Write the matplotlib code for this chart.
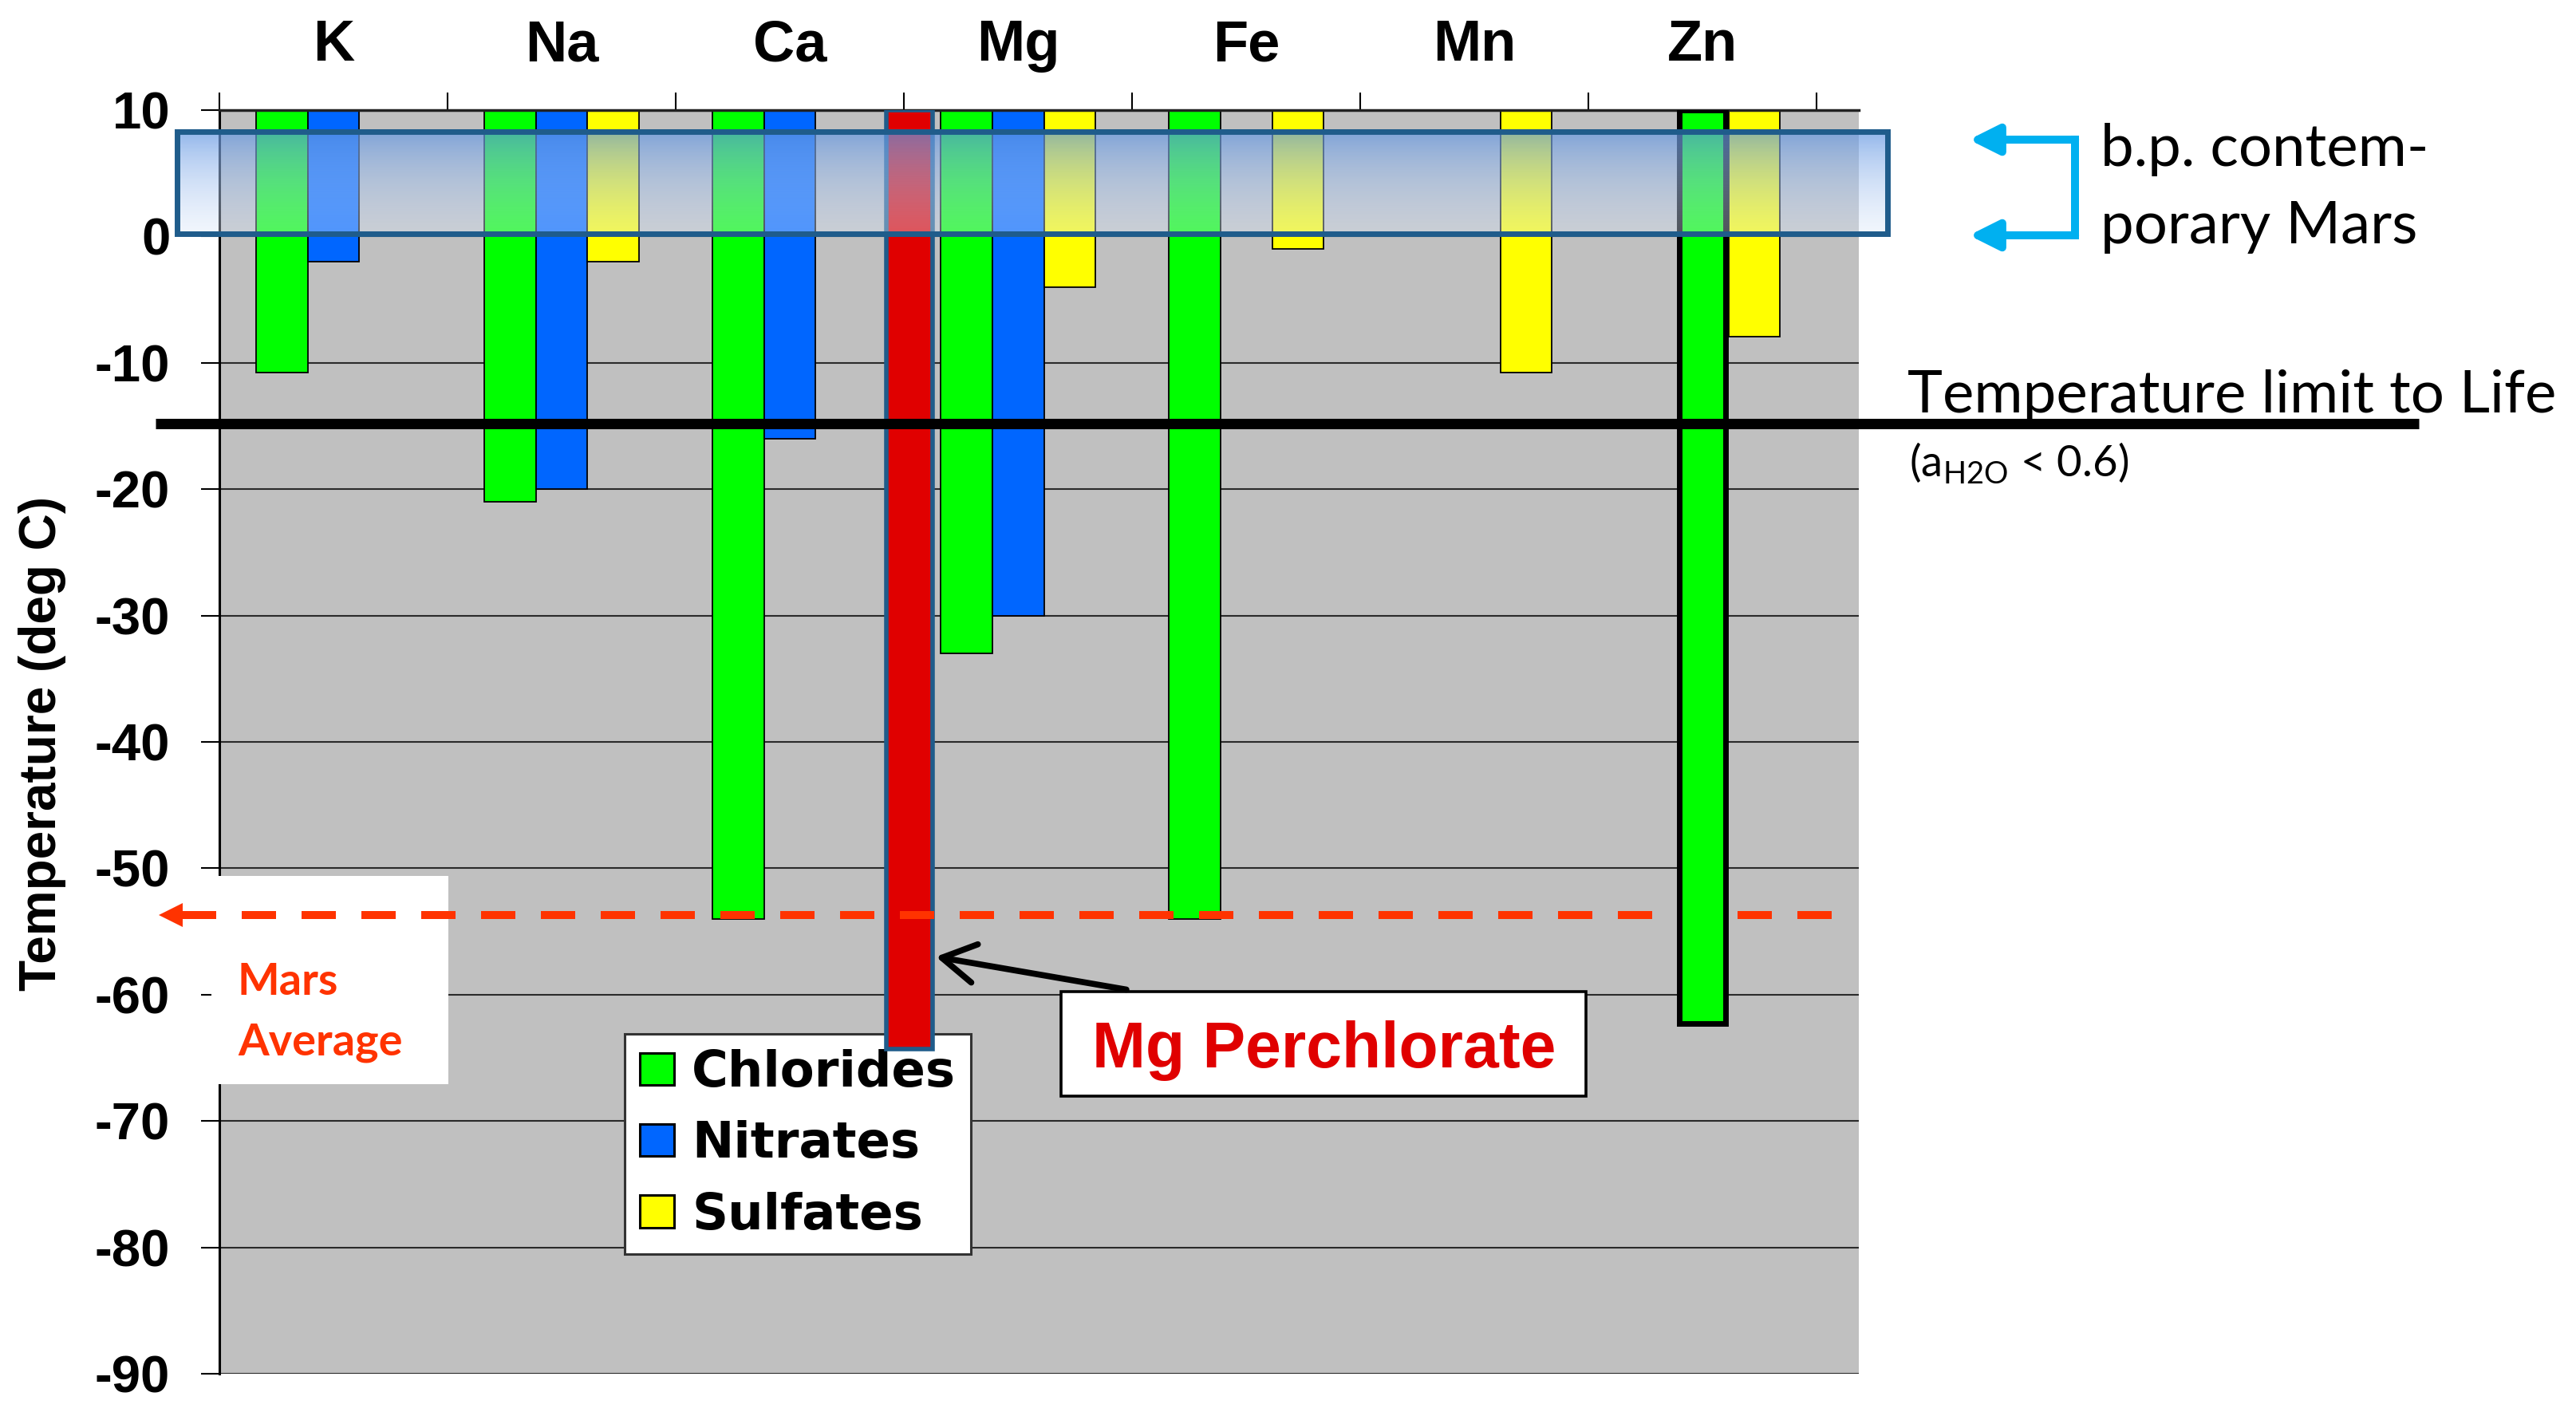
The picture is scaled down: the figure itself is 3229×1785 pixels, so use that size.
import numpy as np
import matplotlib
matplotlib.use("Agg")
import matplotlib.pyplot as plt
from matplotlib.patches import Rectangle, FancyArrowPatch, ArrowStyle

# ---------------- data ----------------
categories = ["K", "Na", "Ca", "Mg", "Fe", "Mn", "Zn"]
chlorides = [-10.8, -21.0, -54.0, -33.0, -54.0, np.nan, -62.3]
nitrates = [-2.0, -20.0, -16.0, -30.0, np.nan, np.nan, np.nan]
sulfates = [np.nan, -2.0, np.nan, -4.0, -1.0, -10.8, -7.9]
series_names = ["Chlorides", "Nitrates", "Sulfates"]
series_colors = ["#00FF00", "#0066FF", "#FFFF00"]
highlight_cat = "Zn"            # chloride drawn in the centre slot with heavy outline
perchlorate_cat = "Mg"
perchlorate_label = "Mg Perchlorate"
perchlorate_value = -64.3
mars_average = -53.7
life_limit = -14.8
bp_low, bp_high = 0.2, 8.3
y_ticks = list(range(-90, 11, 10))
y_top, y_bottom = 10, -90

# ---------------- figure ----------------
W_PX, H_PX, DPI = 3230, 1785, 100
fig = plt.figure(figsize=(W_PX / DPI, H_PX / DPI), dpi=DPI)
fig.patch.set_facecolor("white")
ax = fig.add_axes([275 / W_PX, 1 - 1722 / H_PX, 2055 / W_PX, 1584 / H_PX])
ax.set_facecolor("#C0C0C0")

ARIAL = "Liberation Sans"
CAL = "Lato"

x = np.arange(len(categories)) + 0.5
w = 0.227

containers = []
for k, (vals, col) in enumerate(zip([chlorides, nitrates, sulfates], series_colors)):
    xs, hs = [], []
    for i, v in enumerate(vals):
        if np.isnan(v):
            continue
        if k == 0 and categories[i] == highlight_cat:
            continue
        xs.append(x[i] + (k - 1) * w)
        hs.append(v - y_top)
    c = ax.bar(xs, hs, bottom=y_top, width=w, color=col, edgecolor="black",
               linewidth=1.3, zorder=2, label=series_names[k])
    containers.append(c)

# highlighted Zn chloride bar
iz = categories.index(highlight_cat)
ax.bar(x[iz], chlorides[iz] - y_top, bottom=y_top, width=0.205, color=series_colors[0],
       edgecolor="black", linewidth=5, zorder=6)

# Mg perchlorate bar
im_ = categories.index(perchlorate_cat)
ax.bar(x[im_] - 0.476, perchlorate_value - y_top, bottom=y_top, width=0.2, color="#E00000",
       edgecolor="#1F5C8B", linewidth=4, zorder=4)

# axes styling
ax.set_ylim(y_bottom, y_top)
ax.set_yticks(y_ticks)
ax.set_yticklabels([str(t) for t in y_ticks])
ax.set_axisbelow(True)
ax.grid(axis="y", color="#2a2a2a", linewidth=1.5)
ax.xaxis.tick_top()
ax.set_xticks(np.arange(len(categories) + 1))
ax.tick_params(axis="x", which="both", top=True, bottom=False, labeltop=False,
               labelbottom=False, direction="out", length=16, width=1.5)
ax.tick_params(axis="y", direction="out", length=16.5, width=1.5, pad=28,
               labelsize=47)
for lab in ax.get_yticklabels():
    lab.set_fontfamily(ARIAL)
    lab.set_fontweight("bold")
for s in ["right", "bottom"]:
    ax.spines[s].set_visible(False)
ax.spines["left"].set_linewidth(2.2)
ax.spines["top"].set_linewidth(2.5)
ax.spines["top"].set_color("#222222")

# category labels on top
for xi, cat in zip(x, categories):
    ax.text(xi, 13.9, cat, ha="center", va="baseline", fontsize=52,
            fontfamily=ARIAL, fontweight="bold", clip_on=False)

# y label
fig.text(53 / W_PX, 1 - 932 / H_PX, "Temperature (deg C)", rotation=90, ha="center",
         va="center", fontsize=46, fontfamily=ARIAL, fontweight="bold")

# b.p. band with gradient
n = 256
tt = np.linspace(0, 1, n)[:, None]
top_c = np.array([95, 148, 226, 0.72 * 255]) / 255
bot_c = np.array([220, 232, 250, 0.37 * 255]) / 255
grad = top_c + (bot_c - top_c) * tt ** 0.8
img = np.repeat(grad[:, None, :], 2, axis=1)
band_x0, band_x1 = -0.185, 7.311
im = ax.imshow(img, extent=[band_x0, band_x1, bp_low, bp_high], aspect="auto",
               origin="upper", zorder=7, interpolation="bilinear")
im.set_clip_on(False)
ax.add_patch(Rectangle((band_x0, bp_low), band_x1 - band_x0, bp_high - bp_low, fill=False,
                       edgecolor="#1F5C8B", linewidth=5, zorder=7.5, clip_on=False))

# temperature limit line
ax.plot([-0.28, 9.64], [life_limit, life_limit], color="black", lw=9.4, zorder=8,
        clip_on=False, solid_capstyle="butt")

# Mars average white box, dashed line and arrow head
ax.add_patch(Rectangle((-0.035, -67.1), 1.038, 16.5, facecolor="white", edgecolor="none",
                       zorder=2.6, clip_on=False))
ax.plot([-0.165, 7.11], [mars_average, mars_average], color="#FF3300", lw=7.2,
        dashes=(4.3, 3.2), zorder=5, clip_on=False, solid_capstyle="butt",
        dash_capstyle="butt")
ax.plot([-0.213], [mars_average], marker="<", markersize=21.6, color="#FF3300",
        markeredgewidth=0, zorder=5, clip_on=False)
t_mars = ax.text(0.08, -60.0, "Mars", color="#FF3300", fontsize=38, fontfamily=CAL,
                 fontweight="bold", va="baseline", ha="left", zorder=6)
t_avg = ax.text(0.08, -64.75, "Average", color="#FF3300", fontsize=38, fontfamily=CAL,
                fontweight="bold", va="baseline", ha="left", zorder=6)

# legend
leg = ax.legend(handles=containers, labels=series_names, loc="upper left",
                bbox_to_anchor=(783 / W_PX, 1 - 1296 / H_PX), bbox_transform=fig.transFigure,
                borderaxespad=0, prop=dict(family="DejaVu Sans", weight="bold", size=45),
                handlelength=0.7, handleheight=0.62, handletextpad=0.35, labelspacing=0.47,
                borderpad=0.3, fancybox=False, framealpha=1, edgecolor="#333333")
leg.get_frame().set_linewidth(2.2)
leg.set_zorder(3)
for p in leg.get_patches():
    p.set_linewidth(2.2)

# Mg perchlorate annotation
ax.add_patch(Rectangle((3.689, -68.03), 2.301, 8.27, facecolor="white", edgecolor="black",
                       linewidth=2.6, zorder=3, clip_on=False))
t_mg = ax.text(4.843, -65.76, perchlorate_label, color="#E00000", fontsize=58,
               fontfamily=ARIAL, fontweight="bold", ha="center", va="baseline", zorder=3.2)
arr = FancyArrowPatch((3.975, -59.6), (3.14, -57.0),
                      arrowstyle=ArrowStyle("->", head_length=0.6, head_width=0.35),
                      mutation_scale=50, lw=5.5, color="black", shrinkA=0, shrinkB=0,
                      zorder=5, clip_on=False)
ax.add_patch(arr)

# cyan bracket
cy = "#00B0F0"
ax.plot([8.133, 8.133], [7.66, 0.09], color=cy, lw=7.2, zorder=8, clip_on=False,
        solid_capstyle="projecting")
for yy in (7.66, 0.09):
    a = FancyArrowPatch((8.133, yy), (7.668, yy),
                        arrowstyle=ArrowStyle("-|>", head_length=22, head_width=11),
                        mutation_scale=1, lw=7.2, color=cy, shrinkA=0, shrinkB=0,
                        zorder=8, clip_on=False)
    ax.add_patch(a)

# right-hand texts
t_bp1 = ax.text(8.245, 5.58, "b.p. contem-", fontsize=54, fontfamily=CAL, ha="left",
                va="baseline", clip_on=False)
t_bp2 = ax.text(8.245, -0.54, "porary Mars", fontsize=54, fontfamily=CAL, ha="left",
                va="baseline", clip_on=False)
t_life = ax.text(7.399, -13.93, "Temperature limit to Life", fontsize=54, fontfamily=CAL,
                 ha="left", va="baseline", clip_on=False)
t_aw = ax.text(7.406, -18.98, r"(a$_{\mathregular{H2O}}$ < 0.6)", fontsize=40,
               fontfamily=CAL, ha="left", va="baseline", clip_on=False)

ax.set_xlim(0, 7.185)
ax.set_ylim(y_bottom, y_top)

# fit text widths to the reference
fig.canvas.draw()
renderer = fig.canvas.get_renderer()


def fit(t, target):
    bb = t.get_window_extent(renderer)
    s = t.get_fontsize() * target / bb.width
    t.set_fontsize(s)
    return s


s = fit(t_life, 812)
t_bp1.set_fontsize(s)
t_bp2.set_fontsize(s)
fit(t_aw, 275)
s2 = fit(t_avg, 206)
t_mars.set_fontsize(s2)

fig.savefig("out.png", dpi=DPI, facecolor="white")
